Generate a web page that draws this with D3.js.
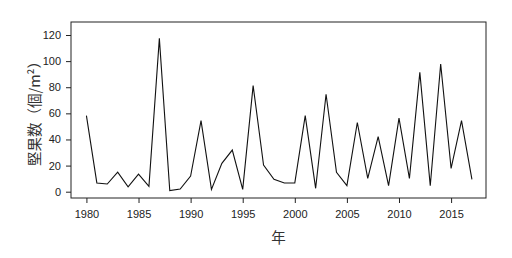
<!DOCTYPE html>
<html>
<head>
<meta charset="utf-8">
<title>堅果数</title>
<style>
    body { margin: 0; background: #fff; }
    svg { display: block; }
    .tick text { font-family: "Liberation Sans", Arial, sans-serif; font-size: 11px; fill: #222; }
    .lab { font-family: "Noto Sans CJK JP", sans-serif; font-size: 14.5px; fill: #333; }
</style>
</head>
<body>
<script src="https://cdn.jsdelivr.net/npm/d3@7"></script>
<script>
var years = d3.range(1980, 2018);
var nuts = [58.2, 6.7, 5.9, 15, 3.8, 13.5, 4.1, 117.4, 0.8, 2, 12, 54.4, 1.8, 21.7, 31.9, 1.8,
    81.2, 20.4, 9.5, 6.7, 6.7, 58.2, 2.6, 74.6, 14.8, 4.6, 53, 10.2, 42.1, 4.6, 56.4, 10.2,
    91.4, 4.6, 97.8, 17.9, 54.4, 9.5];
var xTicks = [1980, 1985, 1990, 1995, 2000, 2005, 2010, 2015];
var yTicks = [0, 20, 40, 60, 80, 100, 120];

var box = { left: 71, top: 22, right: 486, bottom: 198 };
var w = 512, h = 258;

var svg = d3.select('body').append('svg')
    .attr('width', w)
    .attr('height', h);

var x = d3.scaleLinear().domain([1978.52, 2018.35]).range([box.left, box.right]);
var y = d3.scaleLinear().domain([0, 120]).range([191.7, 35]);

// plot frame
svg.append('rect')
    .attr('x', box.left).attr('y', box.top)
    .attr('width', box.right - box.left).attr('height', box.bottom - box.top)
    .attr('fill', 'none').attr('stroke', '#222').attr('stroke-width', 1);

var xAxis = svg.append('g')
    .attr('transform', 'translate(0,' + box.bottom + ')')
    .call(d3.axisBottom(x).tickValues(xTicks).tickFormat(d3.format('d')).tickSize(5).tickPadding(7));
xAxis.select('.domain').remove();

var yAxis = svg.append('g')
    .attr('transform', 'translate(' + box.left + ',0)')
    .call(d3.axisLeft(y).tickValues(yTicks).tickSize(5).tickPadding(5));
yAxis.select('.domain').remove();

svg.selectAll('.tick line').attr('stroke', '#222');

var line = d3.line()
    .x(function(d, i) { return x(years[i]); })
    .y(function(d) { return y(d); });

svg.append('path')
    .datum(nuts)
    .attr('d', line)
    .attr('fill', 'none')
    .attr('stroke', '#111')
    .attr('stroke-width', 1.1);

svg.append('text')
    .attr('class', 'lab')
    .attr('x', (box.left + box.right) / 2)
    .attr('y', 243)
    .attr('text-anchor', 'middle')
    .text('年');

svg.append('text')
    .attr('class', 'lab')
    .attr('transform', 'translate(40,110) rotate(-90)')
    .attr('text-anchor', 'middle')
    .text('堅果数（個/m²）');
</script>
</body>
</html>
